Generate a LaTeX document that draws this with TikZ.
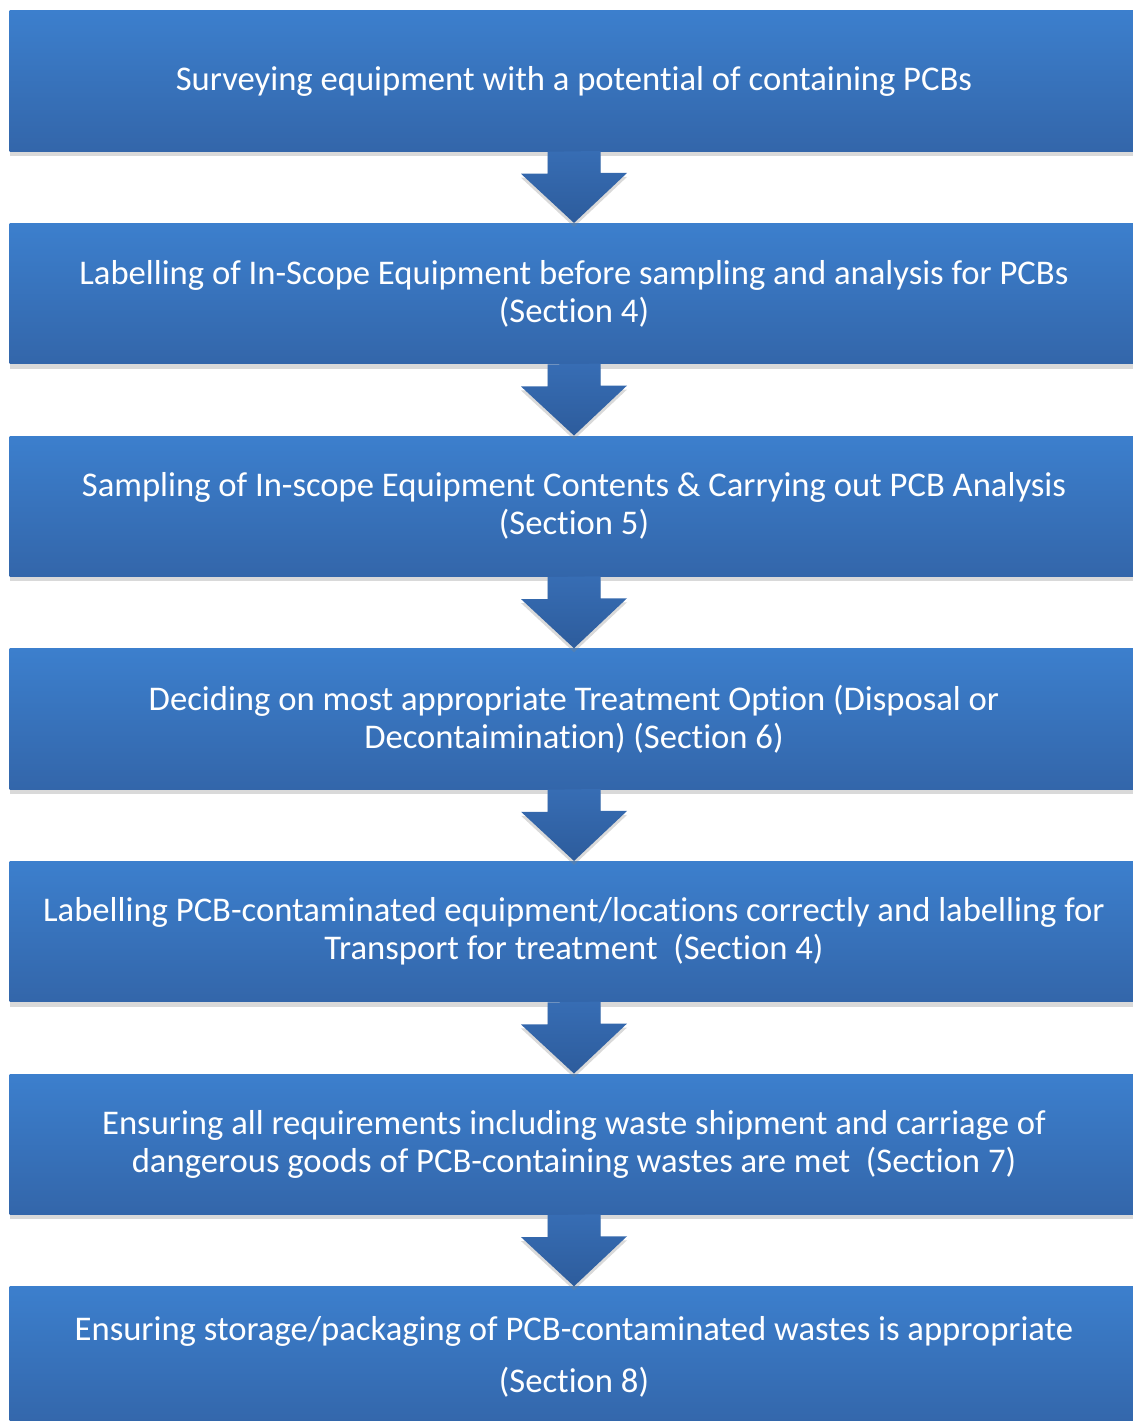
\documentclass[tikz,border=0pt]{standalone}
\usepackage{fontspec}
\setmainfont[Ligatures={NoCommon,NoContextual,NoRare},RawFeature={-liga;-clig;-dlig}]{Carlito}
\usetikzlibrary{positioning,shadows}
\definecolor{boxtop}{RGB}{60,127,205}
\definecolor{boxbot}{RGB}{51,102,170}
\definecolor{arrtop}{RGB}{55,109,180}
\definecolor{arrbot}{RGB}{45,92,156}
\begin{document}
\begin{tikzpicture}[x=0.01cm, y=-0.01cm,
		stepbox/.style={rectangle, top color=boxtop, bottom color=boxbot, text=white,
			minimum width=11.28cm, minimum height=1.4cm, inner sep=0pt, align=center,
			font=\fontsize{9.85}{10.8}\selectfont,
			drop shadow={shadow xshift=0cm, shadow yshift=-0.05cm, opacity=0.3}},
		downarrow/.style={top color=arrtop, bottom color=arrbot,
			drop shadow={shadow xshift=0cm, shadow yshift=-0.04cm, opacity=0.3}}]
	\useasboundingbox (0,0) rectangle (1132,1421);
	\node[stepbox] (survey) at (574,81) {Surveying equipment with a potential of containing PCBs};
	\node[stepbox] (labelin) at (574,293.7) {Labelling of In-Scope Equipment before sampling and analysis for PCBs\\(Section 4)};
	\node[stepbox] (sampling) at (574,506.3) {Sampling of In-scope Equipment Contents \& Carrying out PCB Analysis\\(Section 5)};
	\node[stepbox] (treat) at (574,719) {Deciding on most appropriate Treatment Option (Disposal or\\Decontaimination) (Section 6)};
	\node[stepbox] (labelpcb) at (574,931.7) {Labelling PCB-contaminated equipment/locations correctly and labelling for\\Transport for treatment\ \ (Section 4)};
	\node[stepbox] (shipment) at (574,1144.3) {Ensuring all requirements including waste shipment and carriage of\\dangerous goods of PCB-containing wastes are met\ \ (Section 7)};
	\node[stepbox] (storage) at (574,1357) {Ensuring storage/packaging of PCB-contaminated wastes is appropriate\\[0.14cm](Section 8)};
	\foreach \a/\b in {survey/labelin, labelin/sampling, sampling/treat, treat/labelpcb, labelpcb/shipment, shipment/storage}
		\path[downarrow] (\a.south) ++(-26.5,0) -- ++(0,22) -- ++(-26.5,0) -- (\b.north)
			-- ++(53,-50) -- ++(-26.5,0) -- ++(0,-22) -- cycle;
\end{tikzpicture}
\end{document}
